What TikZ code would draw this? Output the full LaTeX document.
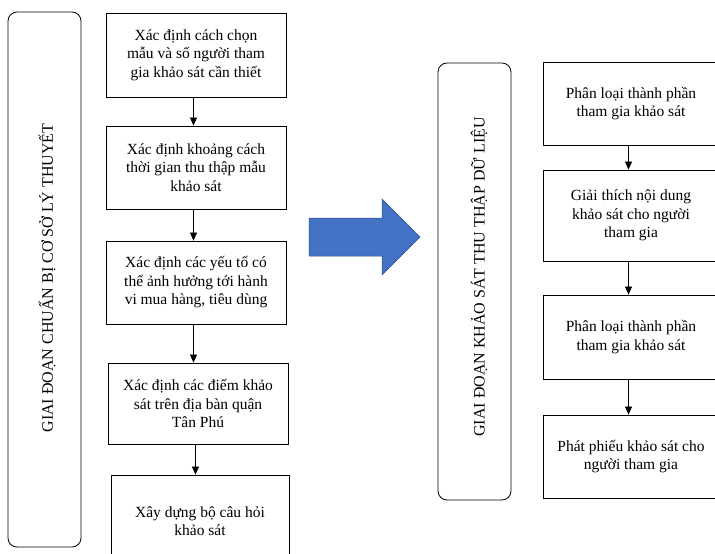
\documentclass[tikz,border=0pt]{standalone}
\usepackage{fontspec}
\setmainfont{Liberation Serif}
\usepackage{xcolor}
\usetikzlibrary{arrows.meta}
\definecolor{officeblue}{HTML}{4472C4}
\definecolor{officeedge}{HTML}{2F528F}

\begin{document}
\begin{tikzpicture}[x=1pt, y=-1pt,
  task/.style={rectangle, draw, line width=0.8pt, align=center, inner sep=2pt,
    font=\fontsize{15.5}{18.5}\selectfont},
  phase/.style={rectangle, draw, line width=0.8pt, rounded corners=9pt, minimum width=73pt},
  phaselbl/.style={rotate=90, font=\fontsize{16}{19}\selectfont, inner sep=0pt},
  link/.style={-{Triangle[length=8pt, width=7pt]}, line width=0.7pt}
]
\useasboundingbox (0,0) rectangle (715,554);
\clip (0,0) rectangle (715,554);

% ===== Phase 1 =====
\node[phase, minimum height=535pt] (p1) at (44.5, 279.5) {};
\node[phaselbl] (p1lbl) at (47, 278) {GIAI ĐOẠN CHUẨN BỊ CƠ SỞ LÝ THUYẾT};

\node[task, minimum width=180pt, minimum height=84pt] (b1) at (196, 55)
  {Xác định cách chọn\\mẫu và số người tham\\gia khảo sát cần thiết};
\node[task, minimum width=180pt, minimum height=83pt] (b2) at (196, 167.5)
  {Xác định khoảng cách\\thời gian thu thập mẫu\\khảo sát};
\node[task, minimum width=180pt, minimum height=83pt] (b3) at (196, 282.5)
  {Xác định các yếu tố có\\thể ảnh hưởng tới hành\\vi mua hàng, tiêu dùng};
\node[task, minimum width=180pt, minimum height=81pt] (b4) at (198, 403.5)
  {Xác định các điểm khảo\\sát trên địa bàn quận\\Tân Phú};
\node[task, minimum width=178pt, minimum height=92pt] (b5) at (200, 521)
  {Xây dựng bộ câu hỏi\\khảo sát};

% ===== Transition =====
\fill[officeblue, draw=officeedge, line width=0.5pt]
  (309,218) -- (382,218) -- (382,199) -- (420,237) -- (382,275) -- (382,256) -- (309,256) -- cycle;

% ===== Phase 2 =====
\node[phase, minimum height=437pt] (p2) at (474.5, 281.5) {};
\node[phaselbl] (p2lbl) at (479, 277) {GIAI ĐOẠN KHẢO SÁT THU THẬP DỮ LIỆU};

\node[task, minimum width=176pt, minimum height=83pt] (r1) at (631, 103.5)
  {Phân loại thành phần\\tham gia khảo sát};
\node[task, minimum width=176pt, minimum height=91pt] (r2) at (631, 215.5)
  {Giải thích nội dung\\khảo sát cho người\\tham gia};
\node[task, minimum width=176pt, minimum height=84pt] (r3) at (631, 337)
  {Phân loại thành phần\\tham gia khảo sát};
\node[task, minimum width=176pt, minimum height=83pt] (r4) at (631, 456.5)
  {Phát phiếu khảo sát cho\\người tham gia};

% ===== Flow arrows =====
\foreach \a/\b in {b1/b2, b2/b3, b3/b4, b4/b5, r1/r2, r2/r3, r3/r4}
  \draw[link] ([xshift=-2.5pt]\a.south) -- ([xshift=-2.5pt]\a.south |- \b.north);

\end{tikzpicture}
\end{document}
